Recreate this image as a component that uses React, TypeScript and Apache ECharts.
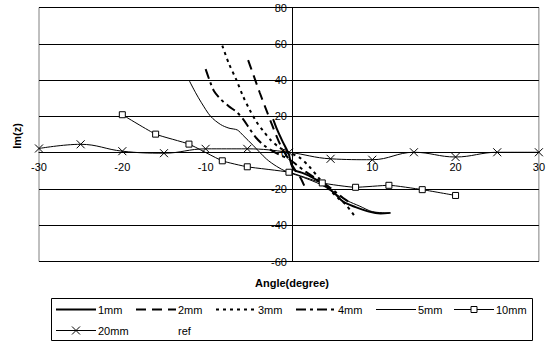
import React, { useEffect, useRef } from "react";
import * as echarts from "echarts";

const FONT = '"Liberation Sans", Arial, sans-serif';

// Angle (degree) / Im(z) pairs per probe size
const x1mm = [-1.9, -1.4, -0.8, -0.3, 0, 0.2, 0.6, 1.5, 2.5, 4, 5.5, 6.5, 8, 9.6, 11, 12.2];
const y1mm = [18.5, 12.5, 6.5, 2, -1, -5, -9.5, -11, -13, -17, -22.5, -27, -30, -32.5, -33.5, -33.2];

const x2mm = [-4.9, -4.2, -3.5, -2.8, -2, -1, 0, 0.8, 1.4, 2.1];
const y2mm = [51, 42, 33, 24.5, 15, 4, -4, -10, -14, -21];

const x3mm = [-8, -7.2, -6.3, -5.5, -4.7, -3.9, -3.1, -2.2, -1.2, 0, 1.2, 2.4, 3.6, 4.8, 6, 6.8, 7.8];
const y3mm = [59, 49, 40, 31, 23.5, 17, 12, 7, 3, 0, -2.5, -7.5, -14, -20, -25.5, -28.5, -34.5];

const x4mm = [-10, -9.5, -9, -8.2, -7.2, -6.3, -5.5, -4.7, -4, -3, -2, -1, 0, 1, 2, 3.5, 5, 6.5, 7.5];
const y4mm = [46, 39.5, 34, 29.5, 25.5, 22.5, 18.5, 13, 8.5, 4, 1, -1.5, -3.5, -7, -10.5, -15, -19.5, -25, -28];

const x5mm = [-12, -11.2, -10.5, -9.4, -8.2, -7.2, -6.2, -5.5, -4.3, -2.7, -1.5, -0.3, 1, 2.5, 4, 5.5, 7, 8.5, 10, 12];
const y5mm = [40, 33, 27.5, 20, 15.5, 13.5, 12.5, 9.5, 4, -3.5, -7.5, -10.5, -12.5, -15, -18, -22.5, -26.5, -29.5, -32.5, -33.3];

const x10mm = [-20, -16, -12, -8, -5, 0, 4, 8, 12, 16, 20];
const y10mm = [20.9, 10.2, 4.7, -4.5, -7.8, -10.8, -16.7, -19.1, -18.0, -20.4, -23.6];

const x20mm = [-30, -25, -20, -15, -10, -5, 0, 5, 10, 15, 20, 25, 30];
const y20mm = [2.3, 4.6, 0.8, -0.3, 2.1, 2.1, 0.2, -3.4, -3.9, 0.2, -2.4, 0.2, 0.2];

const seriesNames = ["1mm", "2mm", "3mm", "4mm", "5mm", "10mm", "20mm", "ref"];

const X_MIN = -30;
const X_MAX = 30;
const Y_MIN = -60;
const Y_MAX = 80;

const pairs = (xs: number[], ys: number[]) => xs.map((x, i) => [x, ys[i]]);

const CROSS = "path://M0,0L10,10M10,0L0,10";

// line look for each series (shared by the plot and the legend key)
type Look = { width: number; dash: number[] | null; marker: "none" | "rect" | "cross"; hidden?: boolean };
const looks: Record<string, Look> = {
  "1mm": { width: 2, dash: null, marker: "none" },
  "2mm": { width: 2, dash: [10, 6], marker: "none" },
  "3mm": { width: 2, dash: [3, 4], marker: "none" },
  "4mm": { width: 2, dash: [10, 4, 3, 4], marker: "none" },
  "5mm": { width: 1, dash: null, marker: "none" },
  "10mm": { width: 1, dash: null, marker: "rect" },
  "20mm": { width: 1, dash: null, marker: "cross" },
  ref: { width: 1, dash: null, marker: "none", hidden: true },
};

export default function App() {
  const ref = useRef<HTMLDivElement>(null);

  useEffect(() => {
    if (!ref.current) return;
    const chart = echarts.init(ref.current, undefined, { renderer: "svg" });

    const gridLeft = 39;
    const gridTop = 7.5;
    const gridW = 506;
    const gridH = 254;
    // axes cross at the origin of the plot
    const xAxisOffset = -(gridH * (0 - Y_MIN)) / (Y_MAX - Y_MIN);
    const yAxisOffset = -(gridW * (0 - X_MIN)) / (X_MAX - X_MIN);

    const plain = (name: string, data: number[][], smooth: number) => {
      const lk = looks[name];
      return {
        name,
        type: "line",
        data,
        symbol: "none",
        smooth,
        lineStyle: { color: "#000", width: lk.width, type: lk.dash ?? "solid" },
        itemStyle: { color: "#000" },
      };
    };

    // legend key, laid out in two rows inside a framed box
    const keyLeft = [56, 136, 216, 296, 376, 454, 56, 136];
    const keyY = [309.5, 309.5, 309.5, 309.5, 309.5, 309.5, 330.5, 330.5];
    const legendGraphics: any[] = [];
    seriesNames.forEach((n, i) => {
      const lk = looks[n];
      const x0 = keyLeft[i];
      const y = keyY[i];
      if (!lk.hidden) {
        legendGraphics.push({
          type: "line",
          shape: { x1: x0, y1: y, x2: x0 + 40, y2: y },
          style: { stroke: "#000", lineWidth: lk.width, lineDash: lk.dash ?? null },
          silent: true,
        });
        if (lk.marker === "rect") {
          legendGraphics.push({
            type: "rect",
            shape: { x: x0 + 17, y: y - 3, width: 6, height: 6 },
            style: { fill: "#fff", stroke: "#000", lineWidth: 1 },
            silent: true,
          });
        } else if (lk.marker === "cross") {
          legendGraphics.push(
            {
              type: "line",
              shape: { x1: x0 + 16, y1: y - 4, x2: x0 + 24, y2: y + 4 },
              style: { stroke: "#000", lineWidth: 1 },
              silent: true,
            },
            {
              type: "line",
              shape: { x1: x0 + 24, y1: y - 4, x2: x0 + 16, y2: y + 4 },
              style: { stroke: "#000", lineWidth: 1 },
              silent: true,
            }
          );
        }
      }
      legendGraphics.push({
        type: "text",
        x: x0 + 42,
        y,
        style: {
          text: n,
          font: `11px ${FONT}`,
          fill: "#000",
          textAlign: "left",
          textVerticalAlign: "middle",
        },
        silent: true,
      });
    });

    chart.setOption({
      animation: false,
      backgroundColor: "#fff",
      textStyle: { fontFamily: FONT },
      grid: {
        left: gridLeft,
        top: gridTop,
        width: gridW,
        height: gridH,
        show: true,
        borderColor: "#808080",
        borderWidth: 1,
        backgroundColor: "transparent",
      },
      xAxis: {
        type: "value",
        min: X_MIN,
        max: X_MAX,
        interval: 10,
        position: "bottom",
        offset: xAxisOffset,
        axisLine: { onZero: false, lineStyle: { color: "#000", width: 1 } },
        axisTick: { show: false },
        splitLine: { show: false },
        axisLabel: {
          color: "#000",
          fontSize: 11,
          fontFamily: FONT,
          margin: 9,
          showMinLabel: true,
          showMaxLabel: true,
          formatter: (v: number) => (v === 0 ? "" : String(v)),
        },
      },
      yAxis: {
        type: "value",
        min: Y_MIN,
        max: Y_MAX,
        interval: 20,
        position: "left",
        offset: yAxisOffset,
        axisLine: { onZero: false, lineStyle: { color: "#000", width: 1 } },
        axisTick: { show: true, length: 4, lineStyle: { color: "#000" } },
        splitLine: { show: true, lineStyle: { color: "#000", width: 1 } },
        axisLabel: { color: "#000", fontSize: 11, fontFamily: FONT, margin: 5 },
      },
      graphic: [
        {
          type: "rect",
          shape: { x: 51.5, y: 298.5, width: 481, height: 42 },
          style: { fill: "none", stroke: "#000", lineWidth: 1 },
          silent: true,
        },
        ...legendGraphics,
        {
          type: "text",
          x: 292,
          y: 283,
          style: {
            text: "Angle(degree)",
            font: `bold 11px ${FONT}`,
            fill: "#000",
            textAlign: "center",
            textVerticalAlign: "middle",
          },
        },
        {
          type: "text",
          x: 17,
          y: 136,
          rotation: Math.PI / 2,
          style: {
            text: "Im(z)",
            font: `bold 11px ${FONT}`,
            fill: "#000",
            textAlign: "center",
            textVerticalAlign: "middle",
          },
        },
      ],
      series: [
        plain("1mm", pairs(x1mm, y1mm), 0.3),
        plain("2mm", pairs(x2mm, y2mm), 0.3),
        plain("3mm", pairs(x3mm, y3mm), 0.3),
        plain("4mm", pairs(x4mm, y4mm), 0.3),
        plain("5mm", pairs(x5mm, y5mm), 0.3),
        {
          name: "10mm",
          type: "line",
          data: pairs(x10mm, y10mm),
          symbol: "rect",
          symbolSize: 6,
          smooth: 0.15,
          lineStyle: { color: "#000", width: 1 },
          itemStyle: { color: "#fff", borderColor: "#000", borderWidth: 1 },
        },
        {
          name: "20mm",
          type: "line",
          data: pairs(x20mm, y20mm),
          symbol: CROSS,
          symbolSize: 8,
          smooth: 0.4,
          lineStyle: { color: "#000", width: 1 },
          itemStyle: { color: "#000", borderColor: "#000", borderWidth: 1 },
        },
      ],
    });

    return () => chart.dispose();
  }, []);

  return (
    <div
      ref={ref}
      style={{ position: "fixed", left: 0, top: 0, width: 548, height: 347, background: "#fff" }}
    />
  );
}
